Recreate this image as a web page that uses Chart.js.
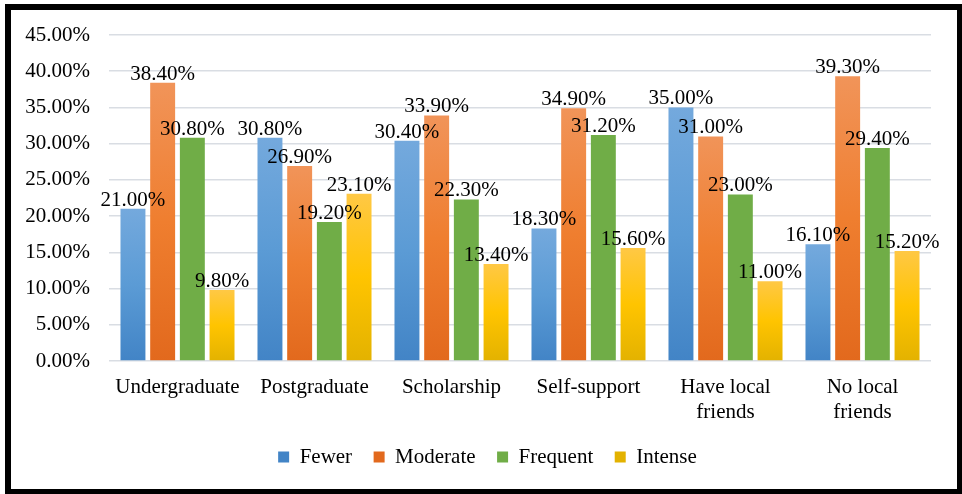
<!DOCTYPE html>
<html>
<head>
<meta charset="utf-8">
<script src="https://cdn.jsdelivr.net/npm/chart.js@4"></script>
<style>
  html, body { margin: 0; padding: 0; background: #fff; }
  canvas { display: block; }
</style>
</head>
<body>
<canvas id="c" width="962" height="494"></canvas>
<script>
const categories = ['Undergraduate', 'Postgraduate', 'Scholarship', 'Self-support', ['Have local', 'friends'], ['No local', 'friends']];
const seriesNames = ['Fewer', 'Moderate', 'Frequent', 'Intense'];
const fewer    = [21.0, 30.8, 30.4, 18.3, 35.0, 16.1];
const moderate = [38.4, 26.9, 33.9, 34.9, 31.0, 39.3];
const frequent = [30.8, 19.2, 22.3, 31.2, 23.0, 29.4];
const intense  = [9.8, 23.1, 13.4, 15.6, 11.0, 15.2];
const yTickValues = [0, 5, 10, 15, 20, 25, 30, 35, 40, 45];

const FONT = "'Liberation Serif', 'Times New Roman', serif";
const FS = 21;
const fmt = v => v.toFixed(2) + '%';

const palettes = [
  { solid: '#5b9bd5', stops: ['#74a9dd', '#5b9bd5', '#4284c6'] },
  { solid: '#ed7d31', stops: ['#f19459', '#ef7e2f', '#e2691d'] },
  { solid: '#70ad47', stops: ['#70ad47', '#70ad47', '#70ad47'] },
  { solid: '#ffc000', stops: ['#ffc845', '#ffc400', '#e3b200'] }
];

function barFill(p) {
  return function (ctx) {
    if (ctx.type !== 'data') return p.solid;
    const chart = ctx.chart;
    const ys = chart.scales.y;
    if (!ys || !chart.chartArea) return p.solid;
    const top = ys.getPixelForValue(ctx.raw);
    const base = ys.getPixelForValue(0);
    if (!isFinite(top) || !isFinite(base) || base - top < 1) return p.solid;
    const g = chart.ctx.createLinearGradient(0, top, 0, base);
    g.addColorStop(0, p.stops[0]);
    g.addColorStop(0.5, p.stops[1]);
    g.addColorStop(1, p.stops[2]);
    return g;
  };
}

const seriesData = [fewer, moderate, frequent, intense];

const labelPlugin = {
  id: 'valueLabels',
  afterDatasetsDraw(chart) {
    const ctx = chart.ctx;
    ctx.save();
    ctx.font = FS + 'px ' + FONT;
    ctx.fillStyle = '#000';
    ctx.textAlign = 'center';
    ctx.textBaseline = 'alphabetic';
    chart.data.datasets.forEach((ds, i) => {
      const meta = chart.getDatasetMeta(i);
      meta.data.forEach((bar, j) => {
        ctx.fillText(fmt(ds.data[j]), bar.x, bar.y - 3);
      });
    });
    ctx.restore();
  }
};

const framePlugin = {
  id: 'frame',
  beforeDraw(chart) {
    const ctx = chart.ctx;
    ctx.save();
    ctx.fillStyle = '#fff';
    ctx.fillRect(0, 0, chart.width, chart.height);
    ctx.restore();
  },
  afterDraw(chart) {
    const ctx = chart.ctx;
    ctx.save();
    ctx.fillStyle = '#000';
    ctx.fillRect(5, 4, 6, 490);
    ctx.fillRect(5, 4, 957, 6);
    ctx.fillRect(957, 4, 5, 490);
    ctx.fillRect(5, 489, 957, 5);
    ctx.restore();
  }
};

new Chart(document.getElementById('c'), {
  type: 'bar',
  data: {
    labels: categories,
    datasets: seriesNames.map((name, i) => ({
      label: name,
      data: seriesData[i],
      backgroundColor: barFill(palettes[i]),
      borderWidth: 0,
      categoryPercentage: 0.867,
      barPercentage: 0.84,
      yAxisID: 'y'
    }))
  },
  options: {
    responsive: false,
    animation: false,
    devicePixelRatio: 1,
    layout: { padding: { left: 13, right: 0, top: 35, bottom: 16.5 } },
    plugins: {
      legend: {
        position: 'bottom',
        labels: {
          boxWidth: 11,
          boxHeight: 11,
          padding: 21.5,
          color: '#000',
          font: { family: FONT, size: FS }
        }
      },
      tooltip: { enabled: false }
    },
    scales: {
      x: {
        grid: { display: false },
        border: { display: false },
        ticks: {
          color: '#000',
          font: { family: FONT, size: FS },
          padding: 6,
          maxRotation: 0,
          autoSkip: false
        },
        afterFit(s) { s.height = 64; }
      },
      y: {
        position: 'left',
        min: 0,
        max: 45,
        afterBuildTicks(s) { s.ticks = yTickValues.map(v => ({ value: v })); },
        ticks: {
          color: '#000',
          font: { family: FONT, size: FS },
          padding: 19,
          callback: v => fmt(v)
        },
        grid: { color: '#d9dde3', lineWidth: 1.5, drawTicks: false },
        border: { display: false },
        afterFit(s) { s.width = 96; }
      },
      y2: {
        position: 'right',
        display: true,
        min: 0,
        max: 45,
        ticks: { display: false },
        grid: { display: false, drawTicks: false },
        border: { display: false },
        afterFit(s) { s.width = 31; }
      }
    }
  },
  plugins: [framePlugin, labelPlugin]
});
</script>
</body>
</html>
